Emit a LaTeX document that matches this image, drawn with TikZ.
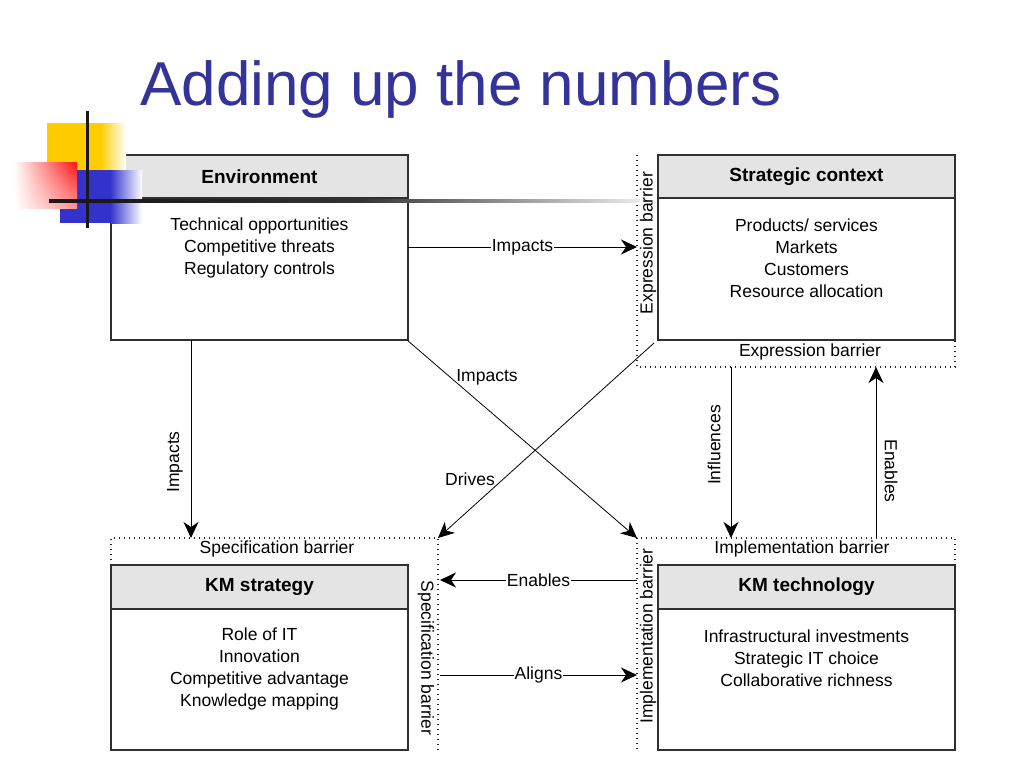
\documentclass[tikz,border=0pt]{standalone}
\usepackage{fontspec}
\setmainfont{Liberation Sans}
\usetikzlibrary{arrows.meta,calc,shadings}
\definecolor{titleblue}{HTML}{333399}
\definecolor{hdrgray}{HTML}{E4E4E4}
\definecolor{linegray}{HTML}{303030}
\definecolor{decoyellow}{HTML}{FFCC00}
\definecolor{decoblue}{HTML}{3333CC}
\definecolor{decored}{HTML}{FF1010}
\begin{document}
\begin{tikzpicture}[x=1pt,y=-1pt,
  box/.style={draw=linegray,line width=1.2pt,minimum width=297pt,minimum height=185pt,inner sep=0pt,outer sep=0pt,anchor=north west},
  hdr/.style={draw=linegray,line width=1.2pt,fill=hdrgray},
  hdrtext/.style={font=\fontsize{19}{22}\selectfont\bfseries,inner sep=0pt},
  body/.style={font=\fontsize{17.5}{22}\selectfont,align=center,inner sep=0pt},
  lbl/.style={font=\fontsize{17.5}{22}\selectfont,inner sep=1pt},
  barrier/.style={line width=1.4pt,dash pattern=on 1.4pt off 3.6pt,black!85},
  arr/.style={-{Stealth[length=16pt,width=15pt,inset=5pt]},line width=1pt},
]
\useasboundingbox (0,0) rectangle (1024,768);
\fill[white] (0,0) rectangle (1024,768);

% title
\node[anchor=base west,inner sep=0pt,text=titleblue,font=\fontsize{62}{70}\selectfont] (title) at (140,105) {Adding up the numbers};

% boxes
\node[box] (env) at (111,155) {};
\draw[hdr] (env.north west) rectangle ($(env.north east)+(0,43)$);
\node[hdrtext] (envh) at ($(env.north)+(0,22)$) {Environment};
\node[body] (envb) at ($(env.north)+(0,93)$) {Technical opportunities\\Competitive threats\\Regulatory controls};

\node[box] (strat) at (658,155) {};
\draw[hdr] (strat.north west) rectangle ($(strat.north east)+(0,43)$);
\node[hdrtext] (strath) at ($(strat.north)+(0,22)$) {Strategic context};
\node[body] (stratb) at ($(strat.north)+(0,103)$) {Products/ services\\Markets\\Customers\\Resource allocation};

\node[box] (kms) at (111,565) {};
\draw[hdr] (kms.north west) rectangle ($(kms.north east)+(0,44)$);
\node[hdrtext] (kmsh) at ($(kms.north)+(0,22)$) {KM strategy};
\node[body] (kmsb) at ($(kms.north)+(0,104)$) {Role of IT\\Innovation\\Competitive advantage\\Knowledge mapping};

\node[box] (kmt) at (658,565) {};
\draw[hdr] (kmt.north west) rectangle ($(kmt.north east)+(0,44)$);
\node[hdrtext] (kmth) at ($(kmt.north)+(0,22)$) {KM technology};
\node[body] (kmtb) at ($(kmt.north)+(0,93)$) {Infrastructural investments\\Strategic IT choice\\Collaborative richness};

% barrier frames
\coordinate (exTL) at (637,155);
\coordinate (exBL) at (637,367);
\coordinate (exBR) at (955,367);
\draw[barrier] (exTL) -- (exBL) -- (exBR) -- (strat.south east);
\node[lbl,rotate=90,fill=white,inner sep=0pt] (exv) at (648,243) {Expression barrier};
\node[lbl] (exh) at (810,352) {Expression barrier};

\coordinate (spTL) at (111,538);
\coordinate (spTR) at (438,538);
\coordinate (spBR) at (438,750);
\draw[barrier] (kms.north west) -- (spTL) -- (spTR) -- (spBR);
\node[lbl] (sph) at (277,549) {Specification barrier};
\node[lbl,rotate=-90] (spv) at (426,658) {Specification barrier};

\coordinate (imTL) at (637,538);
\coordinate (imTR) at (955,538);
\coordinate (imBL) at (637,750);
\draw[barrier] (kmt.north east) -- (imTR) -- (imTL) -- (imBL);
\node[lbl] (imh) at (802,549) {Implementation barrier};
\node[lbl,rotate=90,fill=white,inner sep=0pt] (imv) at (648,636) {Implementation barrier};

% connectors
\draw[arr] (env.east |- 0,247) -- (637,247) node[lbl,midway,fill=white] (l1) {Impacts};
\draw[arr] ($(env.south west)+(80,0)$) -- (spTL -| 191,0);
\node[lbl,rotate=90] (l2) at (175,462) {Impacts};
\draw[arr,line width=0.8pt] ($(env.south east)+(-1,0)$) -- (imTL);
\node[lbl] (l3) at (487,377) {Impacts};
\draw[arr,line width=0.8pt] ($(strat.south west)+(-4,3)$) -- (spTR);
\node[lbl] (l4) at (470,479) {Drives};
\draw[arr] (exBL -| 731,0) -- (imTL -| 731,0);
\node[lbl,rotate=90] (l5) at (714,445) {Influences};
\draw[arr] (imTL -| 876,0) -- (exBL -| 876,0);
\node[lbl,rotate=-90] (l6) at (891,471) {Enables};
\draw[arr] (637,580) -- (440,580) node[lbl,midway,fill=white] (l7) {Enables};
\draw[arr] (440,675) -- (637,675) node[lbl,midway,fill=white] (l8) {Aligns};

% decoration
\fill[decoyellow] (47,123) rectangle (100,186);
\shade[left color=decoyellow,right color=white] (100,123) rectangle (126,186);
\fill[decoblue] (60,170) rectangle (110,223);
\shade[left color=decoblue,right color=white] (110,170) rectangle (142,223);
\shade[upper left=white,upper right=decored,lower left=white,lower right=decored!45!white] (14,162) rectangle (77,208);
\fill[black!90] (85.5,111) rectangle (89,228);
\fill[black!90] (49,199) rectangle (110,202.5);
\shade[left color=black!90,right color=black!80] (110,199) rectangle (360,202.5);
\shade[left color=black!80,right color=black!8] (360,199) rectangle (640,202.5);
\end{tikzpicture}
\end{document}
